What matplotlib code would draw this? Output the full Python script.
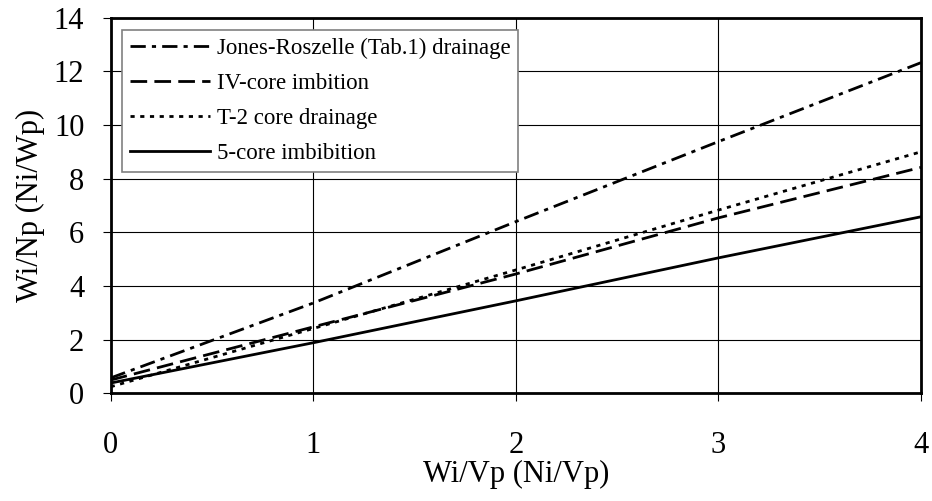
import numpy as np
import matplotlib
matplotlib.use('Agg')
import matplotlib.pyplot as plt

plt.rcParams['font.family'] = ['Liberation Serif', 'DejaVu Serif']

# 数据
x = [0, 1, 2, 3, 4]
jones = [0.58, 3.37, 6.40, 9.38, 12.32]
iv_core = [0.50, 2.48, 4.45, 6.54, 8.42]
t2_core = [0.25, 2.42, 4.60, 6.83, 9.00]
core5 = [0.39, 1.89, 3.45, 5.05, 6.58]

labels = ['Jones-Roszelle (Tab.1) drainage', 'IV-core imbition',
          'T-2 core drainage', '5-core imbibition']

fig = plt.figure(figsize=(9.32, 5.01), dpi=100)
ax = fig.add_axes([0.1188, 0.2146, 0.8694, 0.7504])

lw = 2.0
ax.plot(x, jones, color='black', lw=lw, dashes=(5.5, 2.2, 1.5, 2.2), label=labels[0])
ax.plot(x, iv_core, color='black', lw=lw, dashes=(6, 2.6), label=labels[1])
ax.plot(x, t2_core, color='black', lw=lw, dashes=(1.5, 2.0), label=labels[2])
ax.plot(x, core5, color='black', lw=lw, label=labels[3])

ax.set_xlim(0, 4)
ax.set_ylim(0, 14)
ax.set_xticks([0, 1, 2, 3, 4])
ax.set_yticks(np.arange(0, 15, 2))
ax.grid(True, color='black', lw=0.8)
ax.set_axisbelow(True)

for s in ax.spines.values():
    s.set_linewidth(2.0)
ax.tick_params(direction='out', length=6, width=0.8, labelsize=22)
ax.tick_params(axis='y', pad=13)
ax.tick_params(axis='x', pad=21)

ax.set_xlabel('Wi/Vp (Ni/Vp)', fontsize=22, labelpad=0)
ax.set_ylabel('Wi/Np (Ni/Wp)', fontsize=22, labelpad=6)

leg = ax.legend(loc='upper left', bbox_to_anchor=(0.0136, 0.967), borderaxespad=0,
                fancybox=False, edgecolor='gray', framealpha=1, fontsize=16.5,
                handlelength=3.5, handletextpad=0.3, labelspacing=0.6,
                borderpad=0.35)
leg.get_frame().set_linewidth(1.2)

plt.savefig('out.png', dpi=100)
